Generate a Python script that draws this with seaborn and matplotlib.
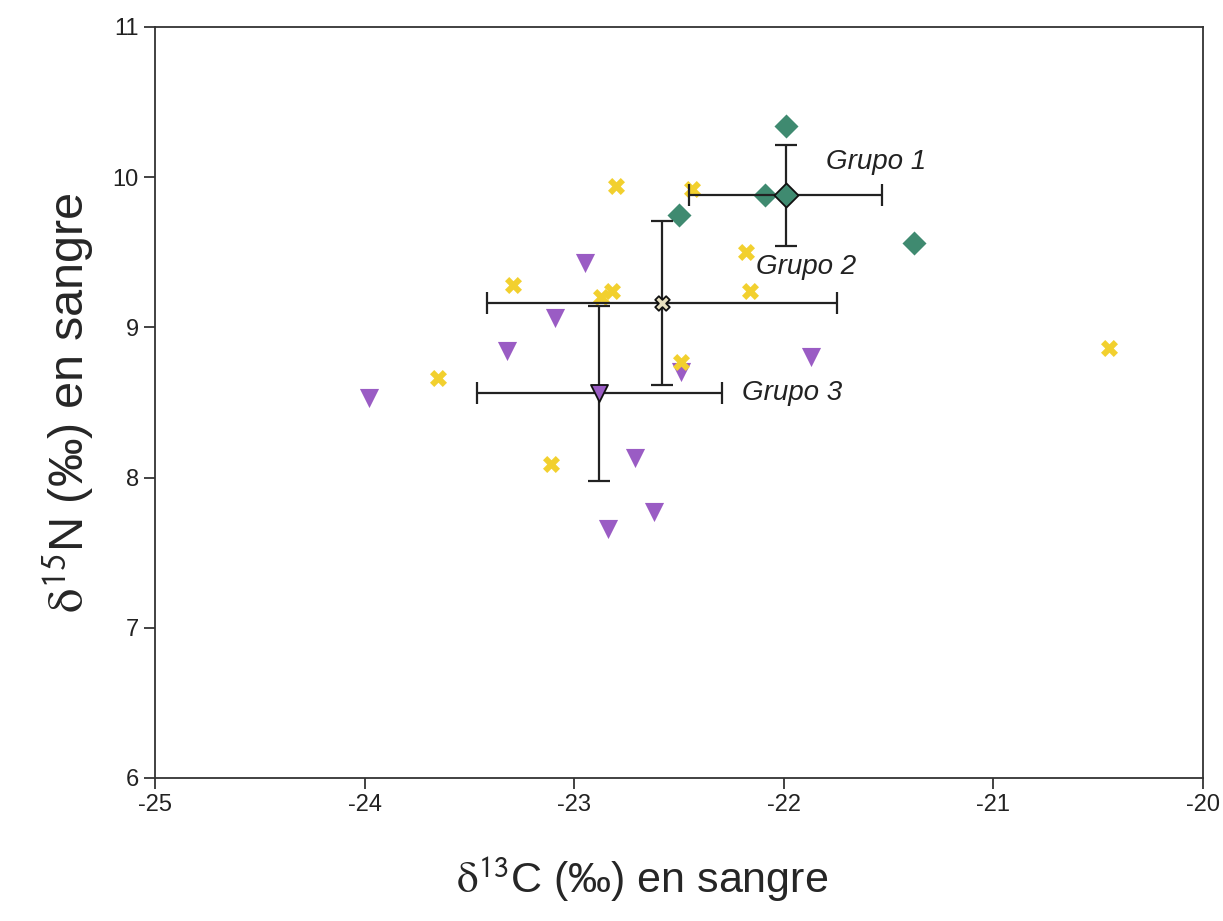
import numpy as np
import pandas as pd
import matplotlib
matplotlib.use("Agg")
import matplotlib.pyplot as plt
import seaborn as sns

# individual samples
g1_c13 = [-21.99, -22.09, -22.50, -21.38]
g1_n15 = [10.34, 9.88, 9.75, 9.56]

g2_c13 = [-22.80, -22.44, -22.18, -22.16, -23.29, -22.87, -22.82, -23.65, -23.11, -22.49, -20.45]
g2_n15 = [9.94, 9.92, 9.50, 9.24, 9.28, 9.20, 9.24, 8.66, 8.09, 8.77, 8.86]

g3_c13 = [-22.95, -23.09, -23.32, -23.98, -22.49, -21.87, -22.71, -22.84, -22.62]
g3_n15 = [9.43, 9.06, 8.84, 8.53, 8.70, 8.80, 8.13, 7.66, 7.77]

# group means and standard deviations
groups = ["Grupo 1", "Grupo 2", "Grupo 3"]
mean_c13 = [-21.99, -22.58, -22.88]
mean_n15 = [9.88, 9.16, 8.56]
sd_c13 = [0.46, 0.835, 0.585]
sd_n15 = [0.335, 0.545, 0.585]

xticks = [-25, -24, -23, -22, -21, -20]
yticks = [6, 7, 8, 9, 10, 11]

colors = {"Grupo 1": "#3f8a70", "Grupo 2": "#f2d02e", "Grupo 3": "#9a5cc4"}
markers = {"Grupo 1": "D", "Grupo 2": "X", "Grupo 3": "v"}
mean_face = {"Grupo 1": "#3f8a70", "Grupo 2": "#e8e0c0", "Grupo 3": "#9a5cc4"}

df = pd.concat([
    pd.DataFrame({"c13": g3_c13, "n15": g3_n15, "grupo": "Grupo 3"}),
    pd.DataFrame({"c13": g2_c13, "n15": g2_n15, "grupo": "Grupo 2"}),
    pd.DataFrame({"c13": g1_c13, "n15": g1_n15, "grupo": "Grupo 1"}),
], ignore_index=True)

sns.set_style("ticks")
plt.rcParams["font.family"] = ["Liberation Sans", "DejaVu Sans"]
plt.rcParams["mathtext.fontset"] = "stix"
plt.rcParams["axes.unicode_minus"] = False

fig = plt.figure(figsize=(12.23, 9.21), dpi=100)
ax = fig.add_axes([0.1267, 0.1553, 0.8569, 0.8154])

sizes = {"Grupo 1": 150, "Grupo 2": 150, "Grupo 3": 190}
for g in ["Grupo 3", "Grupo 2", "Grupo 1"]:
    sub = df[df["grupo"] == g]
    sns.scatterplot(data=sub, x="c13", y="n15", marker=markers[g], color=colors[g],
                    s=sizes[g], linewidth=0, ax=ax, legend=False, zorder=2)

for i, g in enumerate(groups):
    ax.errorbar(mean_c13[i], mean_n15[i], xerr=sd_c13[i], yerr=sd_n15[i],
                fmt="none", ecolor="#222222", elinewidth=1.6, capsize=8,
                capthick=1.6, zorder=3)
    sns.scatterplot(x=[mean_c13[i]], y=[mean_n15[i]], marker=markers[g],
                    color=mean_face[g], edgecolor="#111111", linewidth=1.3,
                    s=150 if g != "Grupo 2" else 110, ax=ax, legend=False, zorder=4)

label_pos = {"Grupo 1": (-21.80, 10.10), "Grupo 2": (-22.13, 9.40), "Grupo 3": (-22.20, 8.56)}
for g in groups:
    x, y = label_pos[g]
    ax.text(x, y, g, fontsize=20, style="italic", ha="left", va="center", color="#222222")

ax.set_xlim(-25, -20)
ax.set_ylim(6, 11)
ax.set_xticks(xticks)
ax.set_yticks(yticks)
ax.tick_params(direction="out", length=8, width=1.2, labelsize=17, colors="#222222")
for side in ax.spines.values():
    side.set_linewidth(1.3)
    side.set_color("#333333")

ax.set_xlabel(r"$\mathrm{\delta}^{\mathsf{13}}$C (‰) en sangre", fontsize=31, labelpad=22)
ax.set_ylabel(r"$\mathrm{\delta}^{\mathsf{15}}$N (‰) en sangre", fontsize=35, labelpad=12)
ax.xaxis.set_label_coords(0.465, -0.102)

fig.savefig("out.png", dpi=100)
